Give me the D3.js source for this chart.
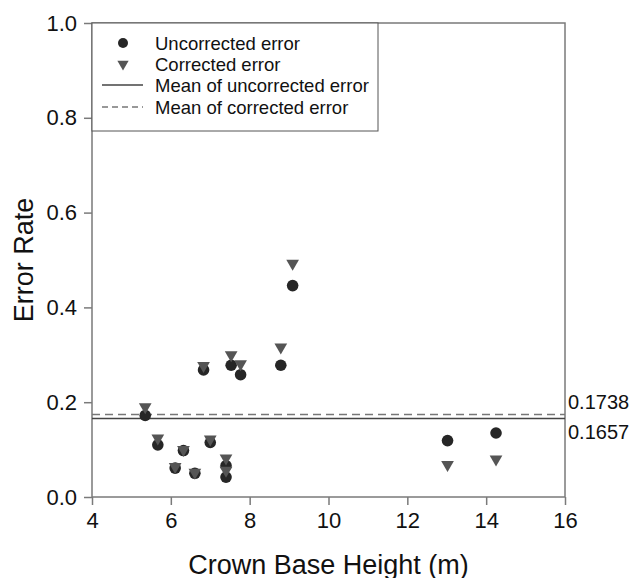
<!DOCTYPE html>
<html>
<head>
<meta charset="utf-8">
<script src="https://cdn.jsdelivr.net/npm/d3@7"></script>
<style>
  body { margin: 0; background: #fff; }
  svg text { font-family: "Liberation Sans", Arial, sans-serif; fill: #111; }
</style>
</head>
<body>
<svg id="chart"></svg>
<script>
const width = 633;
const height = 578;

// crown base height (m) of each sample
const crownBase = [5.35, 5.67, 6.32, 6.11, 6.61, 7.0, 7.4, 7.4, 6.83, 7.53, 7.77, 8.79, 9.09, 13.02, 14.25];
const uncorrected = [0.172, 0.110, 0.098, 0.061, 0.050, 0.115, 0.066, 0.042, 0.268, 0.278, 0.258, 0.278, 0.446, 0.119, 0.135];
const corrected = [0.190, 0.124, 0.100, 0.064, 0.052, 0.122, 0.082, 0.056, 0.277, 0.300, 0.281, 0.316, 0.493, 0.068, 0.080];
const meanUncorrected = 0.1657;
const meanCorrected = 0.1738;
const xTicks = [4, 6, 8, 10, 12, 14, 16];
const yTicks = [0, 0.2, 0.4, 0.6, 0.8, 1.0];
const legendLabels = ["Uncorrected error", "Corrected error", "Mean of uncorrected error", "Mean of corrected error"];

const margin = { top: 23, right: 68, bottom: 81, left: 92 };
const innerWidth = width - margin.left - margin.right;
const innerHeight = height - margin.top - margin.bottom;

const svg = d3.select("#chart")
  .attr("width", width)
  .attr("height", height);

const g = svg.append("g")
  .attr("transform", `translate(${margin.left},${margin.top})`);

const xScale = d3.scaleLinear().domain([4, 16]).range([0, innerWidth]);
const yScale = d3.scaleLinear().domain([0, 1]).range([innerHeight, 0]);

const axisColor = "#7a7a7a";

// frame around plot
g.append("rect")
  .attr("width", innerWidth)
  .attr("height", innerHeight)
  .attr("fill", "none")
  .attr("stroke", axisColor)
  .attr("stroke-width", 1.5);

// X axis
const xAxisG = g.append("g")
  .attr("transform", `translate(0,${innerHeight})`)
  .call(d3.axisBottom(xScale).tickValues(xTicks).tickSize(8).tickPadding(7).tickFormat(d3.format("d")));
xAxisG.select(".domain").remove();
xAxisG.selectAll("line").attr("stroke", axisColor).attr("stroke-width", 1.5);
xAxisG.selectAll("text").style("font-size", "22px").attr("fill", "#111");

// Y axis
const yAxisG = g.append("g")
  .call(d3.axisLeft(yScale).tickValues(yTicks).tickSize(8).tickPadding(7).tickFormat(d3.format(".1f")));
yAxisG.select(".domain").remove();
yAxisG.selectAll("line").attr("stroke", axisColor).attr("stroke-width", 1.5);
yAxisG.selectAll("text").style("font-size", "22px").attr("fill", "#111");

// axis titles
svg.append("text")
  .attr("x", margin.left + innerWidth / 2)
  .attr("y", height - 4)
  .attr("text-anchor", "middle")
  .style("font-size", "27px")
  .text("Crown Base Height (m)");

svg.append("text")
  .attr("transform", `translate(33,${margin.top + innerHeight / 2}) rotate(-90)`)
  .attr("text-anchor", "middle")
  .style("font-size", "27px")
  .text("Error Rate");

// mean lines
g.append("line")
  .attr("x1", 0).attr("x2", innerWidth)
  .attr("y1", yScale(meanUncorrected)).attr("y2", yScale(meanUncorrected))
  .attr("stroke", "#444").attr("stroke-width", 1.5);

g.append("line")
  .attr("x1", 0).attr("x2", innerWidth)
  .attr("y1", yScale(meanCorrected)).attr("y2", yScale(meanCorrected))
  .attr("stroke", "#777").attr("stroke-width", 1.5)
  .attr("stroke-dasharray", "8,5");

// mean labels on the right
g.append("text")
  .attr("x", innerWidth + 3)
  .attr("y", yScale(meanCorrected) - 6)
  .style("font-size", "20px")
  .text(d3.format(".4f")(meanCorrected));

g.append("text")
  .attr("x", innerWidth + 3)
  .attr("y", yScale(meanUncorrected) + 21)
  .style("font-size", "20px")
  .text(d3.format(".4f")(meanUncorrected));

const triangle = d3.symbol().type(d3.symbolTriangle).size(70);

// points: uncorrected circles, then corrected triangles on top
g.selectAll(".unc")
  .data(crownBase)
  .enter()
  .append("circle")
  .attr("class", "unc")
  .attr("cx", (d) => xScale(d))
  .attr("cy", (d, i) => yScale(uncorrected[i]))
  .attr("r", 5.8)
  .attr("fill", "#262626");

g.selectAll(".cor")
  .data(crownBase)
  .enter()
  .append("path")
  .attr("class", "cor")
  .attr("d", triangle)
  .attr("transform", (d, i) => `translate(${xScale(d)},${yScale(corrected[i])}) rotate(180)`)
  .attr("fill", "#555");

// legend
const legend = g.append("g");
legend.append("rect")
  .attr("x", 0).attr("y", 0)
  .attr("width", 286).attr("height", 108)
  .attr("fill", "#fff")
  .attr("stroke", "#555")
  .attr("stroke-width", 1);

const rowY = [20, 41, 62, 84];
legend.append("circle").attr("cx", 31).attr("cy", rowY[0]).attr("r", 5).attr("fill", "#262626");
legend.append("path").attr("d", d3.symbol().type(d3.symbolTriangle).size(55))
  .attr("transform", `translate(31,${rowY[1]}) rotate(180)`).attr("fill", "#555");
legend.append("line").attr("x1", 10).attr("x2", 51).attr("y1", rowY[2]).attr("y2", rowY[2])
  .attr("stroke", "#444").attr("stroke-width", 1.5);
legend.append("line").attr("x1", 10).attr("x2", 51).attr("y1", rowY[3]).attr("y2", rowY[3])
  .attr("stroke", "#777").attr("stroke-width", 1.5).attr("stroke-dasharray", "6,4");

legend.selectAll(".lab")
  .data(legendLabels)
  .enter()
  .append("text")
  .attr("class", "lab")
  .attr("x", 63)
  .attr("y", (d, i) => rowY[i] + 6.5)
  .style("font-size", "18.5px")
  .text((d) => d);
</script>
</body>
</html>
